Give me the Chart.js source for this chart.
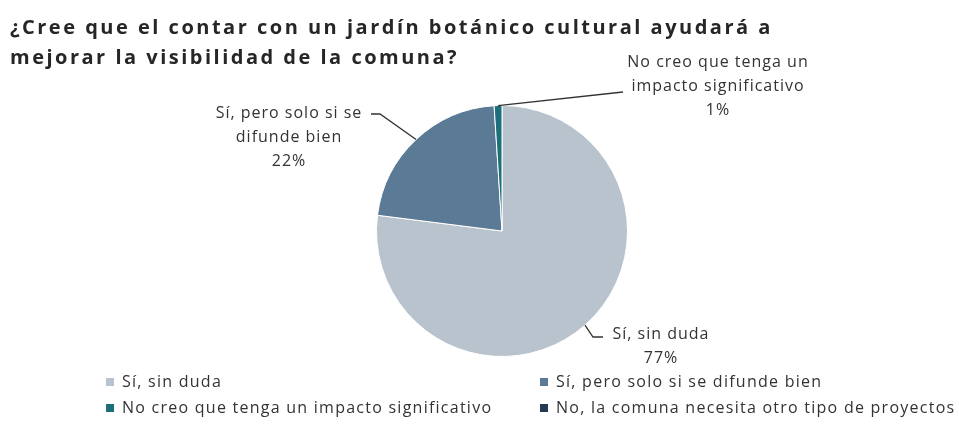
<!DOCTYPE html>
<html lang="es">
  <head>
    <meta charset="UTF-8" />
    <title>Jardín botánico cultural</title>
    <script src="https://cdn.jsdelivr.net/npm/chart.js@4.4.1/dist/chart.umd.min.js"></script>
    <style>
      body { margin: 0; background: #fff; }
      #wrap { width: 959px; height: 425px; }
    </style>
  </head>
  <body>
    <div id="wrap"><canvas id="myChart" width="959" height="425"></canvas></div>

    <script>
      const titleLines = [
        "¿Cree que el contar con un jardín botánico cultural ayudará a",
        "mejorar la visibilidad de la comuna?",
      ];
      const categories = [
        "Sí, sin duda",
        "Sí, pero solo si se difunde bien",
        "No creo que tenga un impacto significativo",
        "No, la comuna necesita otro tipo de proyectos",
      ];
      const percents = [77, 22, 1, 0];
      const sliceColors = ["#b9c3ce", "#5b7a95", "#1d6f7a", "#243b53"];
      // label text lines for the slices that get a callout
      const calloutLines = [
        ["Sí, sin duda", "77%"],
        ["Sí, pero solo si se", "difunde bien", "22%"],
        ["No creo que tenga un", "impacto significativo", "1%"],
        null,
      ];

      const textFont = "16px 'Open Sans'";

      // where the callout text sits and where its leader line bends
      const calloutLayout = [
        { x: 661, y: 334, elbow: [[593, 337], [603, 337]] },
        { x: 289, y: 113, elbow: [[380, 114], [371, 114]] },
        { x: 718, y: 62, elbow: [[623, 92]] },
      ];

      const extras = {
        id: "extras",
        afterDraw(chart) {
          const ctx = chart.ctx;
          ctx.save();
          // title
          ctx.fillStyle = "#262626";
          ctx.font = "bold 20px 'Open Sans'";
          ctx.letterSpacing = "2.5px";
          ctx.textAlign = "left";
          ctx.textBaseline = "middle";
          ctx.fillText(titleLines[0], 10, 28);
          ctx.fillText(titleLines[1], 10, 58);

          // callouts
          const meta = chart.getDatasetMeta(0);
          ctx.font = textFont;
          ctx.letterSpacing = "1px";
          ctx.fillStyle = "#333";
          ctx.strokeStyle = "#333";
          ctx.lineWidth = 1.3;
          calloutLayout.forEach((lay, i) => {
            const arc = meta.data[i];
            const lines = calloutLines[i];
            if (!arc || !lines) return;
            const p = arc.getProps(["x", "y", "startAngle", "endAngle", "outerRadius"], true);
            const mid = (p.startAngle + p.endAngle) / 2;
            const ax = p.x + Math.cos(mid) * p.outerRadius;
            const ay = p.y + Math.sin(mid) * p.outerRadius;
            ctx.beginPath();
            ctx.moveTo(ax, ay);
            lay.elbow.forEach((pt) => ctx.lineTo(pt[0], pt[1]));
            ctx.stroke();
            ctx.textAlign = "center";
            lines.forEach((t, k) => ctx.fillText(t, lay.x, lay.y + k * 24));
          });

          // legend, two columns
          const cols = [106, 540];
          const rows = [382, 408];
          ctx.textAlign = "left";
          ctx.letterSpacing = "1.25px";
          categories.forEach((label, i) => {
            const x = cols[i % 2];
            const y = rows[Math.floor(i / 2)];
            ctx.fillStyle = sliceColors[i];
            ctx.fillRect(x, y - 4, 8, 8);
            ctx.fillStyle = "#333";
            ctx.fillText(label, x + 16, y);
          });
          ctx.restore();
        },
      };

      new Chart(document.getElementById("myChart"), {
        type: "pie",
        data: {
          labels: categories,
          datasets: [
            {
              data: percents,
              backgroundColor: sliceColors,
              borderColor: "#ffffff",
              borderWidth: 1,
            },
          ],
        },
        options: {
          responsive: false,
          animation: false,
          layout: { padding: { top: 105, bottom: 68, left: 376, right: 331 } },
          plugins: {
            legend: { display: false },
            tooltip: { enabled: false },
            title: { display: false },
          },
        },
        plugins: [extras],
      });
    </script>
  </body>
</html>
